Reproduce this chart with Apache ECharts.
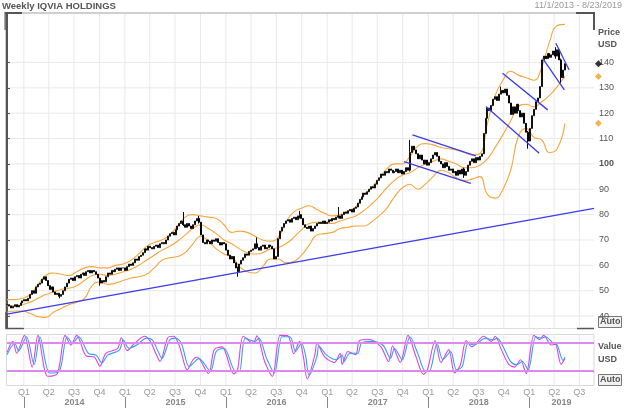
<!DOCTYPE html>
<html>
<head>
<meta charset="utf-8">
<script src="https://cdn.jsdelivr.net/npm/echarts@6/dist/echarts.min.js"></script>
<style>html,body{margin:0;padding:0;background:#fff}#chart{width:624px;height:409px}</style>
</head>
<body>
<div id="chart"></div>
<script>
// weekly closes, week 0 = 2013-11-01
var closes = [
  44.5, 44.0, 43.2, 43.8, 44.5, 43.6, 44.2, 45.2, 46.0, 46.5,
  46.0, 47.0, 48.5, 50.0, 49.0, 51.5, 52.5, 53.0, 54.5, 55.5,
  54.0, 52.0, 50.5, 51.5, 49.5, 48.5, 49.0, 47.8, 48.5, 50.0,
  51.5, 53.0, 54.5, 55.0, 54.0, 55.5, 56.0, 55.0, 56.5, 57.0,
  56.0, 57.5, 58.0, 57.0, 58.0, 57.5, 56.5, 55.0, 53.0, 54.0,
  53.5, 55.5, 57.0, 56.5, 58.0, 57.5, 58.5, 59.0, 58.0, 59.0,
  59.0, 58.0, 59.5, 60.5, 60.0, 61.0, 62.5, 62.0, 63.5, 64.0,
  65.0, 66.5, 66.0, 67.5, 67.0, 66.5, 67.5, 68.0, 67.0, 68.5,
  69.0, 68.5, 70.0, 71.5, 72.5, 73.0, 72.0, 74.0, 75.5, 76.5,
  77.5, 76.0, 75.0, 76.5, 75.5, 74.5, 76.0, 77.5, 78.5, 77.0,
  72.0, 69.0, 68.5, 70.0, 69.5, 68.5, 70.0, 69.5, 70.5, 69.0,
  68.0, 69.0, 68.5, 66.0, 64.0, 62.5, 63.5, 61.0, 59.0, 57.5,
  60.5, 62.0, 63.0, 64.5, 64.0, 65.5, 66.0, 66.5, 68.5, 67.0,
  66.0, 67.5, 68.0, 66.5, 67.0, 68.0, 67.5, 66.5, 62.5, 63.5,
  70.5, 73.5, 75.0, 76.5, 77.5, 78.0, 77.0, 78.5, 79.0, 78.0,
  79.5, 80.0, 78.5, 76.0, 75.0, 74.5, 75.5, 73.5, 74.5, 75.5,
  76.5, 77.0, 76.5, 77.5, 76.5, 77.0, 78.0, 77.5, 78.5, 78.0,
  79.0, 79.5, 78.5, 80.0, 81.0, 80.5, 81.5, 82.0, 81.0, 82.5,
  83.0, 84.5, 86.0, 87.0, 88.5, 88.0, 89.0, 90.0, 91.0, 90.5,
  92.0, 93.5, 94.5, 96.0, 95.5, 97.0, 96.5, 98.0, 97.5, 96.5,
  97.0, 98.0, 96.5, 97.5, 96.0, 97.0, 98.5, 97.5, 104.5, 107.0,
  105.5, 104.0, 102.0, 103.5, 101.5, 100.0, 101.5, 99.5, 100.5, 102.0,
  103.5, 104.5, 103.0, 101.0, 100.0, 98.5, 100.5, 99.0, 97.5, 98.0,
  96.5, 97.0, 95.5, 97.5, 96.0, 98.0, 95.5, 97.0, 99.5, 101.0,
  102.0, 100.5, 102.5, 101.5, 103.0, 104.0, 112.0, 118.0, 122.0, 121.0,
  123.0, 125.5, 126.5, 125.0, 127.5, 129.0, 128.0, 129.5, 127.0, 124.0,
  119.5, 122.5, 120.0, 123.5, 121.0, 118.5, 120.0, 116.0, 112.5, 109.0,
  114.0, 119.0, 121.5, 124.5, 126.0, 130.5, 141.0, 142.5, 141.5, 143.5,
  142.0, 143.0, 144.5, 142.5, 145.0, 141.0, 134.0, 137.0, 139.5
];

// weeks with a visible wick beyond the body: [week, low, high]
var wicks = [
  [27, 47.0, 49.0], [48, 52.0, 55.0], [91, 75.5, 81.0], [99, 76.5, 79.5],
  [119, 55.5, 59.5], [129, 66.5, 71.0], [151, 78.5, 81.5], [171, 78.5, 83.0],
  [208, 97.0, 109.5], [236, 94.5, 98.5], [255, 127.5, 130.5], [269, 106.0, 113.0],
  [283, 141.5, 146.0], [286, 132.0, 141.5]
];

// bollinger bands, one value every 4 weeks (weeks 0, 4, 8 ... 288)
var bandStep = 4;
var bbUpper = [
  46.5, 46.5, 47.0, 48.5, 52.5, 56.0, 57.0, 56.5, 56.0, 57.5,
  59.0, 59.5, 59.0, 59.0, 60.0, 60.5, 62.0, 64.5, 67.5, 69.0,
  70.0, 72.0, 75.5, 79.0, 80.0, 79.5, 79.0, 78.5, 76.0, 73.0,
  73.5, 73.0, 71.5, 70.0, 69.5, 71.0, 77.0, 81.0, 82.5, 83.5,
  82.0, 80.5, 79.5, 80.0, 81.5, 83.0, 87.5, 90.5, 94.0, 98.0,
  100.0, 100.0, 103.0, 107.0, 108.0, 107.5, 106.5, 106.0, 105.5, 104.5,
  103.5, 104.0, 116.0, 127.0, 133.0, 136.5, 135.0, 134.0, 133.0, 138.0,
  148.0, 154.5, 155.0
];
var bbMiddle = [
  44.0, 44.2, 44.5, 45.5, 47.0, 48.5, 49.5, 50.5, 51.0, 52.0,
  54.0, 56.0, 56.5, 56.0, 56.5, 57.5, 58.5, 60.0, 62.0, 64.0,
  66.0, 67.5, 69.5, 72.0, 74.5, 76.0, 74.5, 72.5, 70.0, 68.5,
  66.5, 65.0, 64.5, 65.0, 66.5, 67.0, 68.5, 71.0, 74.0, 76.5,
  77.0, 76.5, 76.5, 77.5, 78.5, 79.5, 81.5, 84.0, 87.0, 90.5,
  93.5, 95.5, 96.5, 98.5, 100.0, 101.0, 102.0, 101.0, 100.0, 98.5,
  98.5, 99.5, 102.0, 106.5, 111.5, 117.0, 122.5, 123.5, 122.5, 124.5,
  127.0, 130.5, 134.5
];
var bbLower = [
  41.5, 42.0, 42.0, 41.0, 39.8, 39.5, 41.5, 43.0, 44.5, 45.5,
  47.0, 52.0, 53.5, 52.5, 53.0, 54.0, 55.0, 55.5, 56.5, 59.0,
  62.0, 63.0, 63.5, 65.0, 68.5, 71.5, 69.5, 66.5, 64.5, 63.5,
  59.5, 57.5, 57.0, 59.5, 62.5, 62.5, 61.0, 61.5, 64.0, 68.0,
  72.0, 72.5, 73.0, 74.5, 75.0, 75.5, 75.5, 77.0, 79.5, 82.5,
  87.0, 90.5, 92.0, 90.0, 92.0, 95.0, 97.5, 96.5, 94.5, 93.5,
  94.0, 95.0, 88.0, 86.5, 90.0, 97.5, 111.0, 114.0, 110.5, 109.5,
  104.5, 106.0, 116.0
];

// stochastic [week, value]
var stochK = [
  [0,60],[3,84],[5,58],[9,97],[13,28],[16,97],[21,8],[26,14],[30,97],[33,76],[36,97],
  [41,52],[45,50],[48,30],[51,58],[57,68],[59,92],[62,64],[66,80],[71,95],[74,84],
  [77,56],[79,40],[83,92],[86,95],[89,74],[93,22],[96,44],[98,50],[104,14],[107,66],
  [111,72],[117,13],[119,22],[122,95],[127,80],[129,96],[133,40],[137,8],[141,97],
  [145,96],[148,57],[151,84],[153,50],[155,2],[159,56],[160,80],[164,50],[169,38],
  [172,58],[173,34],[176,62],[180,55],[182,86],[187,88],[193,72],[197,40],[199,74],
  [203,38],[207,97],[211,52],[215,12],[217,22],[221,86],[224,38],[228,66],[231,15],
  [234,32],[237,86],[240,72],[246,95],[250,84],[252,95],[255,68],[259,34],[262,28],
  [265,44],[268,14],[272,97],[275,88],[277,97],[281,76],[283,78],[286,34],[288,46]
];
var stochD = [
  [0,55],[4,80],[6,63],[10,94],[14,33],[17,94],[22,15],[27,19],[31,94],[34,80],[37,94],
  [42,58],[46,54],[49,37],[52,54],[58,65],[60,87],[63,69],[67,76],[72,91],[75,87],
  [78,62],[80,47],[84,87],[87,91],[90,80],[94,29],[97,40],[99,47],[105,19],[108,62],
  [112,69],[118,19],[120,19],[123,91],[128,84],[130,91],[134,47],[138,15],[142,94],
  [146,94],[149,62],[152,80],[154,56],[156,10],[160,51],[161,74],[165,54],[170,44],
  [173,54],[174,40],[177,58],[181,58],[183,80],[188,84],[194,76],[198,47],[200,69],
  [204,44],[208,94],[212,58],[216,19],[218,19],[222,80],[225,44],[229,62],[232,22],
  [235,29],[238,80],[241,76],[247,91],[251,87],[253,91],[256,73],[260,40],[263,33],
  [266,40],[269,22],[273,94],[276,91],[278,94],[282,80],[284,76],[287,42],[288,50]
];

// trend lines [[week, price], [week, price]]
var trendLines = [
  [[0, 40.8], [303, 82.5]],
  [[209.3, 111.4], [242.0, 103.2]],
  [[204.9, 100.9], [239.4, 92.3]],
  [[255.8, 135.7], [279.1, 121.3]],
  [[247.2, 122.6], [274.7, 104.2]],
  [[283.3, 147.6], [290.2, 137.0]],
  [[276.5, 141.6], [287.7, 129.2]]
];

var priceTicks = [40, 50, 60, 70, 80, 90, 100, 110, 120, 130, 140];
var quarterNames = ['Q1', 'Q2', 'Q3', 'Q4'];
var years = [2014, 2015, 2016, 2017, 2018, 2019];
var lastWeek = 303;

var t0 = Date.UTC(2013, 10, 1);
function weekOf(y, m, d) { return (Date.UTC(y, m, d) - t0) / (7 * 864e5); }

var quarterWeeks = [], quarterLabels = [];
years.forEach(function (y) {
  for (var q = 0; q < 4; q++) {
    var w = weekOf(y, q * 3, 1);
    if (w <= lastWeek) { quarterWeeks.push(w); quarterLabels.push(quarterNames[q]); }
  }
});
var yearStarts = years.map(function (y) { return weekOf(y, 0, 1); });
var yearMids = years.map(function (y, i) {
  var end = Math.min(weekOf(y + 1, 0, 1), lastWeek);
  return (yearStarts[i] + end) / 2;
});

function labelFor(list, names) {
  return function (v) {
    for (var i = 0; i < list.length; i++) if (Math.abs(list[i] - v) < 0.01) return names[i];
    return '';
  };
}

var wickByWeek = {};
wicks.forEach(function (w) { wickByWeek[w[0]] = w; });
var candles = closes.map(function (c, i) {
  var o = i > 0 ? closes[i - 1] : c;
  var lo = Math.min(o, c), hi = Math.max(o, c);
  if (wickByWeek[i]) { lo = Math.min(lo, wickByWeek[i][1]); hi = Math.max(hi, wickByWeek[i][2]); }
  return [i, o, c, lo, hi];
});
function bandData(arr) { return arr.map(function (v, i) { return [i * bandStep, v]; }); }

var gridColor = '#e9e9e9';
function vLines(gridIdx) {
  return {
    type: 'custom', xAxisIndex: gridIdx === 0 ? 0 : 1, yAxisIndex: gridIdx, silent: true, z: 0,
    data: quarterWeeks.map(function (w) { return [w, 50]; }),
    renderItem: function (params, api) {
      var x = api.coord([api.value(0), api.value(1)])[0];
      var cs = params.coordSys;
      return { type: 'line', shape: { x1: x, y1: cs.y, x2: x, y2: cs.y + cs.height },
        style: { stroke: gridColor, lineWidth: 1 } };
    }
  };
}

var chart = echarts.init(document.getElementById('chart'), null, { renderer: 'canvas' });

var font = 'Liberation Sans, Arial, sans-serif';
var bandColor = '#f6a63c';
var series = [
  vLines(0),
  vLines(1),
  {
    type: 'custom', xAxisIndex: 0, yAxisIndex: 0, silent: true, z: 0,
    data: priceTicks.map(function (p) { return [0, p]; }),
    renderItem: function (params, api) {
      var y = api.coord([api.value(0), api.value(1)])[1];
      var cs = params.coordSys;
      return { type: 'line', shape: { x1: cs.x, y1: y, x2: cs.x + cs.width, y2: y },
        style: { stroke: gridColor, lineWidth: 1 } };
    }
  },
  { type: 'line', name: 'upper', data: bandData(bbUpper), smooth: true, symbol: 'none',
    lineStyle: { color: bandColor, width: 1.1 }, z: 2 },
  { type: 'line', name: 'middle', data: bandData(bbMiddle), smooth: true, symbol: 'none',
    lineStyle: { color: bandColor, width: 1.1 }, z: 2 },
  { type: 'line', name: 'lower', data: bandData(bbLower), smooth: true, symbol: 'none',
    lineStyle: { color: bandColor, width: 1.1 }, z: 2 },
  {
    type: 'candlestick', name: 'IQV', data: candles, encode: { x: 0, y: [1, 2, 3, 4] },
    barWidth: 1.5, z: 3,
    itemStyle: { color: '#444', color0: '#000', borderColor: '#111', borderColor0: '#000', borderWidth: 1 }
  }
];
trendLines.forEach(function (seg) {
  series.push({ type: 'line', data: seg, symbol: 'none', z: 4,
    lineStyle: { color: '#3b3bf0', width: 1.3 } });
});
series.push({
  type: 'scatter', clip: false, symbol: 'diamond', symbolSize: 7, z: 6,
  data: [[lastWeek + 2.3, bbMiddle[bbMiddle.length - 1]], [lastWeek + 2.3, bbLower[bbLower.length - 1]]],
  itemStyle: { color: '#f5a020' }
});
series.push({
  type: 'scatter', clip: false, symbol: 'diamond', symbolSize: 7, z: 6,
  data: [[lastWeek + 2.3, closes[closes.length - 1]]],
  itemStyle: { color: '#000' }
});
series.push({
  type: 'line', xAxisIndex: 1, yAxisIndex: 1, data: stochK, symbol: 'none', smooth: 0.3,
  lineStyle: { color: '#e040e8', width: 1.1 }, z: 3,
  markLine: { silent: true, symbol: 'none', label: { show: false },
    lineStyle: { color: '#dd88ee', width: 2, type: 'solid' },
    data: [{ yAxis: 80 }, { yAxis: 20 }] }
});
series.push({
  type: 'line', xAxisIndex: 1, yAxisIndex: 1, data: stochD, symbol: 'none', smooth: 0.3,
  lineStyle: { color: '#2fa0f5', width: 1.1 }, z: 4
});

var axisGray = '#555';
var option = {
  animation: false,
  backgroundColor: '#fff',
  textStyle: { fontFamily: font },
  grid: [
    { left: 7, right: 30, top: 14, height: 314 },
    { left: 7, right: 30, top: 334, height: 51 }
  ],
  xAxis: [
    { gridIndex: 0, type: 'value', min: 0, max: lastWeek, show: false },
    { gridIndex: 1, type: 'value', min: 0, max: lastWeek,
      axisLine: { show: false }, axisTick: { show: false }, splitLine: { show: false },
      axisLabel: { customValues: quarterWeeks, formatter: labelFor(quarterWeeks, quarterLabels),
        color: '#999', fontSize: 9, margin: 3 } },
    { gridIndex: 1, type: 'value', min: 0, max: lastWeek, position: 'bottom', offset: 12,
      axisLine: { show: false }, splitLine: { show: false },
      axisTick: { show: true, customValues: yearStarts, length: 11, lineStyle: { color: '#888' } },
      axisLabel: { customValues: yearMids, formatter: labelFor(yearMids, years.map(String)),
        color: '#888', fontSize: 9, fontWeight: 'bold', margin: 1 } }
  ],
  yAxis: [
    { gridIndex: 0, type: 'value', position: 'right', min: 35.3, max: 159.1,
      axisLine: { show: true, lineStyle: { color: axisGray, width: 2 } },
      axisTick: { show: true, customValues: priceTicks, length: 3, lineStyle: { color: axisGray } },
      splitLine: { show: false },
      axisLabel: { customValues: priceTicks, color: axisGray, fontSize: 9, margin: 5,
        formatter: function (v) { return v === 100 ? '{b|100}' : String(v); },
        rich: { b: { fontWeight: 'bold', fontSize: 9, color: axisGray } } } },
    { gridIndex: 1, type: 'value', min: -11, max: 100, show: false }
  ],
  series: series,
  graphic: [
    { type: 'text', left: 2, top: 1, style: { text: 'Weekly IQVIA HOLDINGS', font: 'bold 9.5px ' + font, fill: '#555' } },
    { type: 'text', right: 2, top: 1, style: { text: '11/1/2013 - 8/23/2019', font: '9px ' + font, fill: '#999' } },
    // frame
    { type: 'rect', shape: { x: 5, y: 12, width: 590, height: 2 }, style: { fill: '#cfcfcf' }, silent: true },
    { type: 'polyline', shape: { points: [[22, 13], [5.5, 13], [5.5, 30]] }, style: { stroke: '#555', lineWidth: 2, fill: null }, silent: true },
    { type: 'polyline', shape: { points: [[576, 13], [594, 13], [594, 30]] }, style: { stroke: '#555', lineWidth: 2, fill: null }, silent: true },
    { type: 'line', shape: { x1: 6, y1: 14, x2: 6, y2: 328 }, style: { stroke: '#999', lineWidth: 1 }, silent: true },
    { type: 'line', shape: { x1: 6, y1: 328.5, x2: 594, y2: 328.5 }, style: { stroke: '#ddd', lineWidth: 1 }, silent: true },
    { type: 'polyline', shape: { points: [[6, 312], [6, 328.5], [24, 328.5]] }, style: { stroke: '#555', lineWidth: 1.5, fill: null }, silent: true },
    { type: 'line', shape: { x1: 577, y1: 328.5, x2: 594, y2: 328.5 }, style: { stroke: '#555', lineWidth: 1.5 }, silent: true },
    { type: 'rect', shape: { x: 6.5, y: 334.5, width: 587.5, height: 51 }, style: { stroke: '#d8d8d8', fill: null, lineWidth: 1 }, silent: true },
    // right-side labels
    { type: 'text', left: 598, top: 28, style: { text: 'Price', font: 'bold 9px ' + font, fill: '#555' } },
    { type: 'text', left: 598, top: 40, style: { text: 'USD', font: 'bold 9px ' + font, fill: '#555' } },
    { type: 'text', left: 598, top: 342, style: { text: 'Value', font: 'bold 9px ' + font, fill: '#555' } },
    { type: 'text', left: 598, top: 355, style: { text: 'USD', font: 'bold 9px ' + font, fill: '#555' } },
    { type: 'rect', shape: { x: 598.5, y: 316.5, width: 23, height: 11 }, style: { fill: '#f2f2f2', stroke: '#777' }, silent: true },
    { type: 'text', left: 600, top: 317, style: { text: 'Auto', font: 'bold 9px ' + font, fill: '#555' } },
    { type: 'rect', shape: { x: 598.5, y: 374.5, width: 23, height: 11 }, style: { fill: '#f2f2f2', stroke: '#777' }, silent: true },
    { type: 'text', left: 600, top: 375, style: { text: 'Auto', font: 'bold 9px ' + font, fill: '#555' } }
  ]
};
chart.setOption(option);
</script>
</body>
</html>
